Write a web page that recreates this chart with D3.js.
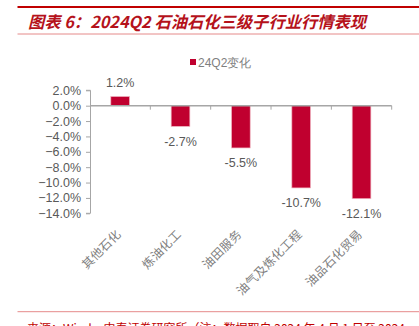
<!DOCTYPE html>
<html><head><meta charset="utf-8">
<script src="https://cdn.jsdelivr.net/npm/d3@7"></script>
<style>html,body{margin:0;padding:0;background:#fff;overflow:hidden}</style>
</head><body>
<svg id="c" width="419" height="326"></svg>
<script>
const categories = ["其他石化","炼油化工","油田服务","油气及炼化工程","油品石化贸易"];
const values = [1.2, -2.7, -5.5, -10.7, -12.1];
const yTicks = [2,0,-2,-4,-6,-8,-10,-12,-14];
const seriesName = "24Q2变化";
const titleText = "图表 6：2024Q2 石油石化三级子行业行情表现";
const sourceText = "来源：Wind，中泰证券研究所（注：数据取自 2024 年 4 月 1 日至 2024";

const svg = d3.select("#c");
const sans = "'Liberation Sans', Arial, sans-serif";
const cjk = "'Noto Sans CJK SC', sans-serif";
const red = "#C0002F";

// header
svg.append("line").attr("x1",17.5).attr("x2",419).attr("y1",7).attr("y2",7)
  .attr("stroke","#C00000").attr("stroke-width",2);
svg.append("text").attr("x",28).attr("y",27.5).text(titleText)
  .attr("font-family",cjk).attr("font-weight","bold").attr("font-style","italic")
  .attr("font-size",16.3).attr("fill","#B5121B");
svg.append("line").attr("x1",17.5).attr("x2",419).attr("y1",34).attr("y2",34)
  .attr("stroke","#E58A8A").attr("stroke-width",1);

// scales
const x = d3.scaleBand().domain(categories).range([90,391.7]).paddingInner(0.69).paddingOuter(0.345);
const xb = d3.scaleBand().domain(categories).range([90,391.7]);
const y = d3.scaleLinear().domain([-14,2]).range([213.3,90.3]);

// y axis
const ya = svg.append("g").attr("transform","translate(90,0)")
  .call(d3.axisLeft(y).tickValues(yTicks).tickSize(4).tickPadding(5).tickFormat(d=>d3.format(".1f")(d)+"%"));
ya.select(".domain").attr("stroke","#A6A6A6").attr("d","M-4,"+y(2)+"H0.5V"+y(-14)+"H-4");
ya.selectAll(".tick line").attr("stroke","#A6A6A6");
ya.selectAll(".tick text").attr("font-family",sans).attr("font-size",12.5).attr("fill","#595959");

// bars
svg.append("g").selectAll("rect").data(values).join("rect")
  .attr("x",(d,i)=>x(categories[i]))
  .attr("width",x.bandwidth())
  .attr("y",d=>y(Math.max(0,d)))
  .attr("height",d=>Math.abs(y(d)-y(0)))
  .attr("fill",red).attr("stroke","#F0B8C4").attr("stroke-width",0.7);

// x axis at zero
const xa = svg.append("g").attr("transform","translate(0,"+y(0)+")");
xa.append("line").attr("x1",90).attr("x2",391.7).attr("stroke","#A6A6A6").attr("stroke-width",1.5);
xa.selectAll(".t").data(categories).join("line").attr("class","t")
  .attr("x1",d=>xb(d)+xb.bandwidth()).attr("x2",d=>xb(d)+xb.bandwidth())
  .attr("y1",0).attr("y2",4).attr("stroke","#A6A6A6");

// value labels
svg.append("g").selectAll("text").data(values).join("text")
  .attr("x",(d,i)=>x(categories[i])+x.bandwidth()/2)
  .attr("y",d=> d>=0 ? y(d)-9 : y(d)+19.5)
  .attr("text-anchor","middle").attr("font-family",sans).attr("font-size",12.5)
  .attr("fill","#595959").text(d=>d.toFixed(1)+"%");

// category labels
svg.append("g").selectAll("text").data(categories).join("text")
  .attr("transform",d=>"translate("+(xb(d)+xb.bandwidth()/2+1.5)+",235) rotate(-45)")
  .attr("text-anchor","end").attr("font-family",cjk).attr("font-size",12)
  .attr("letter-spacing",0.3)
  .attr("fill","#7F7F7F").text(d=>d);

// legend
svg.append("rect").attr("x",190).attr("y",59).attr("width",6).attr("height",6).attr("fill",red);
svg.append("text").attr("x",198).attr("y",66.5).text(seriesName)
  .attr("font-family",sans).attr("font-size",12).attr("fill","#7F7F7F");

// footer
svg.append("line").attr("x1",17.5).attr("x2",419).attr("y1",311.7).attr("y2",311.7)
  .attr("stroke","#E58A8A").attr("stroke-width",1);
svg.append("text").attr("x",27).attr("y",333).text(sourceText)
  .attr("font-family",cjk).attr("font-size",12).attr("fill","#C00000");
</script>
</body></html>
